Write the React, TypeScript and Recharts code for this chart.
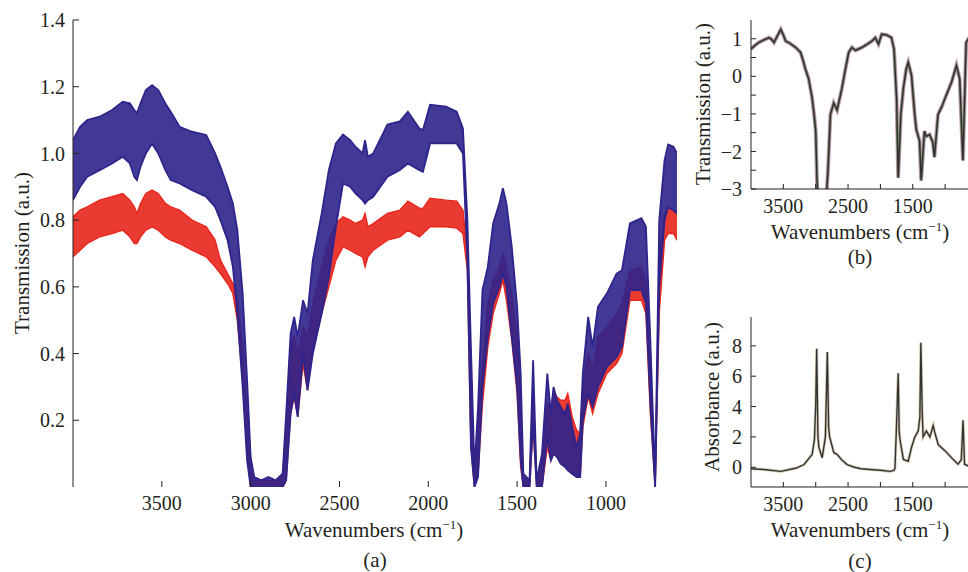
import React from 'react';
import { ComposedChart, LineChart, Area, Line, XAxis, YAxis } from 'recharts';

const FONT = '"Liberation Serif", "DejaVu Serif", serif';
const INK = '#231f20';
const BLUE = '#2d248c';
const RED = '#e8261c';

// panel (a): envelopes of the two groups of spectra
const wavesA = [
  4000, 3960, 3920, 3850, 3780, 3720, 3680, 3655, 3640, 3620,
  3590, 3555, 3520, 3480, 3450, 3400, 3330, 3250, 3200, 3170,
  3130, 3100, 3075, 3045, 3020, 3000, 2980, 2940, 2900, 2860,
  2820, 2800, 2775, 2755, 2735, 2705, 2680, 2650, 2600, 2560,
  2520, 2480, 2440, 2410, 2370, 2356, 2340, 2310, 2230, 2160,
  2115, 2050, 2030, 1990, 1900, 1840, 1805, 1780, 1760, 1740,
  1720, 1695, 1665, 1635, 1600, 1580, 1560, 1530, 1500, 1480,
  1465, 1430, 1410, 1390, 1360, 1330, 1310, 1295, 1275, 1255,
  1230, 1215, 1190, 1165, 1145, 1130, 1100, 1075, 1045, 995,
  940, 910, 865, 800, 775, 750, 723, 700, 670, 650,
  620, 600,
];
const blueHigh = [
  1.04, 1.08, 1.1, 1.11, 1.13, 1.155, 1.15, 1.13, 1.12, 1.15,
  1.19, 1.205, 1.19, 1.15, 1.125, 1.08, 1.065, 1.055, 1.0, 0.96,
  0.9, 0.85, 0.77, 0.58, 0.32, 0.09, 0.03, 0.02, 0.03, 0.02,
  0.04, 0.22, 0.46, 0.51, 0.45, 0.56, 0.52, 0.68, 0.82, 0.95,
  1.03, 1.057, 1.04, 1.02, 1.0, 1.04, 0.99, 1.0, 1.087, 1.096,
  1.125, 1.075, 1.07, 1.146, 1.14, 1.125, 1.075, 0.8, 0.42, 0.05,
  0.24, 0.59, 0.66, 0.79, 0.85, 0.896, 0.85, 0.72, 0.54, 0.34,
  0.04, 0.02, 0.38, 0.02, 0.1, 0.34, 0.22, 0.3, 0.26, 0.24,
  0.22, 0.25, 0.18, 0.12, 0.16, 0.34, 0.51, 0.42, 0.54, 0.58,
  0.64, 0.65, 0.79, 0.806, 0.78, 0.44, 0.02, 0.8, 0.98, 1.027,
  1.02, 1.0,
];
const blueLow = [
  0.86, 0.9, 0.93, 0.95, 0.97, 0.99, 0.97, 0.93, 0.92, 0.96,
  1.0, 1.03, 1.0, 0.95, 0.92, 0.91, 0.89, 0.87, 0.84, 0.8,
  0.74, 0.66, 0.52, 0.3, 0.08, 0, 0, 0, 0, 0,
  0, 0.02, 0.22, 0.28, 0.21, 0.4, 0.29, 0.4, 0.52, 0.63,
  0.78, 0.91, 0.9, 0.88, 0.86, 0.85, 0.86, 0.87, 0.93, 0.95,
  0.97, 0.95, 0.945, 1.03, 1.03, 1.03, 1.0, 0.68, 0.12, 0,
  0.03, 0.3, 0.45, 0.55, 0.6, 0.64, 0.6, 0.45, 0.3, 0.08,
  0, 0, 0.2, 0, 0, 0.15, 0.08, 0.1, 0.09, 0.07,
  0.06, 0.05, 0.04, 0.03, 0.03, 0.2, 0.28, 0.24, 0.3, 0.36,
  0.39, 0.42, 0.59, 0.59, 0.55, 0.25, 0, 0.6, 0.8, 0.84,
  0.83, 0.82,
];
const redHigh = [
  0.81, 0.83, 0.84, 0.86, 0.87, 0.88, 0.86, 0.84, 0.82, 0.85,
  0.88, 0.89, 0.88, 0.85, 0.84, 0.83, 0.8, 0.78, 0.74, 0.68,
  0.64, 0.61, 0.56, 0.42, 0.22, 0.05, 0.02, 0.02, 0.02, 0.02,
  0.03, 0.18, 0.44, 0.45, 0.4, 0.48, 0.45, 0.55, 0.66, 0.74,
  0.79, 0.81, 0.8, 0.79, 0.8, 0.82, 0.78, 0.79, 0.82, 0.83,
  0.857, 0.836, 0.835, 0.866, 0.86, 0.857, 0.83, 0.7, 0.3, 0.03,
  0.2, 0.36, 0.55, 0.62, 0.66, 0.7, 0.66, 0.58, 0.45, 0.25,
  0.03, 0.02, 0.3, 0.02, 0.08, 0.25, 0.24, 0.28, 0.27, 0.26,
  0.26, 0.28, 0.21, 0.17, 0.16, 0.3, 0.4, 0.35, 0.45, 0.48,
  0.52, 0.55, 0.65, 0.66, 0.62, 0.35, 0.02, 0.7, 0.82, 0.836,
  0.83, 0.82,
];
const redLow = [
  0.69, 0.71, 0.73, 0.75, 0.76, 0.77, 0.75, 0.73, 0.73, 0.75,
  0.77, 0.78, 0.77, 0.75, 0.74, 0.73, 0.71, 0.69, 0.66, 0.64,
  0.61, 0.58, 0.5, 0.32, 0.1, 0, 0, 0, 0, 0,
  0, 0.02, 0.22, 0.27, 0.21, 0.37, 0.29, 0.42, 0.52, 0.6,
  0.68, 0.72, 0.71, 0.7, 0.69, 0.66, 0.69, 0.71, 0.74, 0.75,
  0.77, 0.75, 0.76, 0.78, 0.78, 0.776, 0.76, 0.65, 0.12, 0,
  0.04, 0.25, 0.42, 0.52, 0.58, 0.62, 0.56, 0.44, 0.28, 0.06,
  0, 0, 0.18, 0, 0, 0.12, 0.08, 0.1, 0.09, 0.07,
  0.06, 0.05, 0.04, 0.03, 0.03, 0.18, 0.27, 0.22, 0.28, 0.34,
  0.37, 0.4, 0.56, 0.56, 0.52, 0.22, 0, 0.52, 0.74, 0.76,
  0.76, 0.74,
];

// panel (b): preprocessed transmission
const wavesB = [
  4000, 3940, 3880, 3800, 3720, 3680, 3645, 3600, 3540, 3500,
  3465, 3400, 3310, 3235, 3200, 3160, 3110, 3055, 3020, 3000,
  2980, 2950, 2900, 2850, 2810, 2773, 2722, 2670, 2595, 2540,
  2490, 2440, 2385, 2285, 2200, 2130, 2080, 2030, 1980, 1900,
  1830, 1790, 1750, 1725, 1685, 1645, 1600, 1570, 1520, 1470,
  1445, 1395, 1370, 1320, 1290, 1240, 1190, 1165, 1110, 1050,
  1000, 900, 825, 775, 725, 675, 640, 600,
];
const transB = [
  0.73, 0.82, 0.9, 0.97, 1.03, 0.98, 0.9, 1.05, 1.25, 1.1,
  0.94, 0.88, 0.77, 0.64, 0.45, 0.2, -0.06, -0.58, -1.1, -1.46,
  -2.8, -3.6, -4, -3.6, -2.5, -1.02, -0.71, -0.9, -0.32, 0.2,
  0.64, 0.77, 0.69, 0.77, 0.86, 0.94, 1.03, 0.86, 1.12, 1.1,
  1.03, 0.73, -0.58, -2.7, -1.02, -0.31, 0.2, 0.37, 0.03, -1.02,
  -1.42, -1.72, -2.77, -1.46, -1.6, -1.55, -1.76, -2.15, -1.02, -0.8,
  -0.58, -0.15, 0.29, -0.06, -2.24, 0.9, 1.0, 0.95,
];

// panel (c): absorbance
const wavesC = [
  4000, 3800, 3540, 3300, 3180, 3055, 3020, 3000, 2985, 2965,
  2950, 2900, 2850, 2820, 2800, 2785, 2720, 2670, 2600, 2515,
  2400, 2300, 2160, 2000, 1850, 1790, 1775, 1750, 1725, 1710,
  1695, 1645, 1570, 1520, 1470, 1415, 1390, 1375, 1355, 1340,
  1290, 1235, 1185, 1160, 1107, 1000, 900, 800, 750, 723,
  700, 650, 600,
];
const absC = [
  -0.1, -0.15, -0.27, -0.05, 0.18, 0.85, 1.8, 4.0, 7.8, 2.0,
  1.3, 0.63, 2.0, 7.6, 2.6, 2.0, 0.96, 0.85, 0.5, 0.18,
  0.0, -0.1, -0.15, -0.2, -0.27, -0.2, -0.05, 2.9, 6.2, 2.4,
  1.75, 0.52, 0.4, 1.3, 1.97, 2.4, 3.3, 8.2, 3.8, 2.0,
  2.4, 2.0, 2.75, 2.3, 1.5, 1.08, 0.63, 0.2, 0.5, 3.1,
  0.2, 0.1, 0.1,
];

const xTicks = [3500, 3000, 2500, 2000, 1500, 1000];
const yTicksA = [0.2, 0.4, 0.6, 0.8, 1.0, 1.2, 1.4];
const yTicksB = [-3, -2.5, -2, -1.5, -1, -0.5, 0, 0.5, 1];
const yTicksC = [0, 2, 4, 6, 8];

const dataA = wavesA.map((w, i) => ({
  w,
  blue: [blueLow[i], blueHigh[i]],
  red: [redLow[i], redHigh[i]],
}));
const dataB = wavesB.map((w, i) => ({ w, v: transB[i] }));
const dataC = wavesC.map((w, i) => ({ w, v: absC[i] }));

const tickStyle = { fill: INK, fontSize: 20, fontFamily: FONT };
const lineStyle = { stroke: INK, strokeWidth: 1 };

const minus = (v: number) => (v < 0 ? '\u2212' + Math.abs(v) : String(v));
const intOnly = (v: number) => (Number.isInteger(v) ? minus(v) : '');
const oddHalf = (v: number) => (v % 1000 === 500 ? String(v) : '');

const Title = ({ x, y, rotate, size = 21, children }: any) => (
  <div
    style={{
      position: 'absolute',
      left: x,
      top: y,
      transform: `translate(-50%, -50%)${rotate ? ' rotate(-90deg)' : ''}`,
      whiteSpace: 'nowrap',
      fontFamily: FONT,
      fontSize: size,
      color: INK,
      lineHeight: 1,
    }}
  >
    {children}
  </div>
);

const Wave = () => (
  <>
    Wavenumbers (cm<sup style={{ fontSize: '0.62em', verticalAlign: '0.6em', lineHeight: 0 }}>{'\u2212'}1</sup>)
  </>
);

// shared frame axes for the small panels
const frameAxes = (yDomain: number[], yTicks: number[], yFmt: (v: number) => string) => [
  <XAxis key="xb" xAxisId="b" dataKey="w" type="number" domain={[600, 4000]} reversed allowDataOverflow
    ticks={xTicks} tickFormatter={oddHalf} tick={tickStyle} tickLine={lineStyle} axisLine={lineStyle}
    tickSize={-5} tickMargin={15} height={30} interval={0} />,
  <XAxis key="xt" xAxisId="t" orientation="top" dataKey="w" type="number" domain={[600, 4000]} reversed allowDataOverflow
    ticks={xTicks} tick={false} tickLine={lineStyle} axisLine={lineStyle} tickSize={-5} height={0} />,
  <YAxis key="yl" yAxisId="l" type="number" domain={yDomain} allowDataOverflow ticks={yTicks}
    tickFormatter={yFmt} tick={tickStyle} tickLine={lineStyle} axisLine={lineStyle}
    tickSize={-5} tickMargin={14} width={71} interval={0} />,
  <YAxis key="yr" yAxisId="r" orientation="right" type="number" domain={yDomain} allowDataOverflow
    ticks={yTicks} tick={false} tickLine={lineStyle} axisLine={lineStyle} tickSize={-5} width={0} />,
];

export default function App() {
  return (
    <div style={{ position: 'fixed', left: 0, top: 0, width: 968, height: 572, overflow: 'hidden', background: '#fff' }}>
      {/* (a) */}
      <div style={{ position: 'absolute', left: 0, top: 0 }}>
        <ComposedChart width={700} height={520} data={dataA} margin={{ top: 20, right: 23, bottom: 0, left: 0 }}>
          <XAxis xAxisId="b" dataKey="w" type="number" domain={[600, 4000]} reversed allowDataOverflow
            ticks={xTicks} tick={tickStyle} tickLine={lineStyle} axisLine={false}
            tickSize={-6} tickMargin={15} height={33} interval={0} />
          <XAxis xAxisId="t" orientation="top" dataKey="w" type="number" domain={[600, 4000]} reversed allowDataOverflow
            ticks={xTicks} tick={false} tickLine={lineStyle} axisLine={lineStyle} tickSize={-6} height={0} />
          <YAxis yAxisId="l" type="number" domain={[0, 1.4]} allowDataOverflow ticks={yTicksA}
            tickFormatter={(v: number) => v.toFixed(1)} tick={tickStyle} tickLine={lineStyle} axisLine={lineStyle}
            tickSize={-6} tickMargin={14} width={73} interval={0} />
          <YAxis yAxisId="r" orientation="right" type="number" domain={[0, 1.4]} allowDataOverflow
            ticks={yTicksA} tick={false} tickLine={lineStyle} axisLine={false} tickSize={-6} width={0} />
          <Area xAxisId="b" yAxisId="l" type="linear" dataKey="red" stroke={RED} strokeWidth={1.4}
            fill={RED} fillOpacity={0.9} isAnimationActive={false} dot={false} activeDot={false} />
          <Area xAxisId="b" yAxisId="l" type="linear" dataKey="blue" stroke={BLUE} strokeWidth={1.8}
            fill={BLUE} fillOpacity={0.9} isAnimationActive={false} dot={false} activeDot={false} />
        </ComposedChart>
      </div>

      {/* (b) */}
      <div style={{ position: 'absolute', left: 680, top: 0 }}>
        <LineChart width={300} height={219} data={dataB} margin={{ top: 20, right: 9, bottom: 0, left: 0 }}>
          {frameAxes([-3, 1.5], yTicksB, intOnly)}
          <Line xAxisId="b" yAxisId="l" type="linear" dataKey="v" stroke="#a0487a" strokeWidth={4}
            strokeOpacity={0.5} dot={false} isAnimationActive={false} />
          <Line xAxisId="b" yAxisId="l" type="linear" dataKey="v" stroke="#5d7d55" strokeWidth={2.6}
            strokeOpacity={0.75} dot={false} isAnimationActive={false} />
          <Line xAxisId="b" yAxisId="l" type="linear" dataKey="v" stroke="#2b2b2b" strokeWidth={1.3}
            dot={false} isAnimationActive={false} />
        </LineChart>
      </div>

      {/* (c) */}
      <div style={{ position: 'absolute', left: 680, top: 290 }}>
        <LineChart width={300} height={227} data={dataC} margin={{ top: 27, right: 9, bottom: 0, left: 0 }}>
          {frameAxes([-1.3, 9.9], yTicksC, minus)}
          <Line xAxisId="b" yAxisId="l" type="linear" dataKey="v" stroke="#a8925e" strokeWidth={3}
            strokeOpacity={0.45} dot={false} isAnimationActive={false} />
          <Line xAxisId="b" yAxisId="l" type="linear" dataKey="v" stroke="#333333" strokeWidth={1.4}
            dot={false} isAnimationActive={false} />
        </LineChart>
      </div>

      <Title x={22} y={253} rotate>Transmission (a.u.)</Title>
      <Title x={374} y={530}><Wave /></Title>
      <Title x={375} y={560}>(a)</Title>

      <Title x={703} y={104} rotate>Transmission (a.u.)</Title>
      <Title x={860} y={232}><Wave /></Title>
      <Title x={860} y={257}>(b)</Title>

      <Title x={712} y={397} rotate>Absorbance (a.u.)</Title>
      <Title x={860} y={530}><Wave /></Title>
      <Title x={860} y={561}>(c)</Title>
    </div>
  );
}
